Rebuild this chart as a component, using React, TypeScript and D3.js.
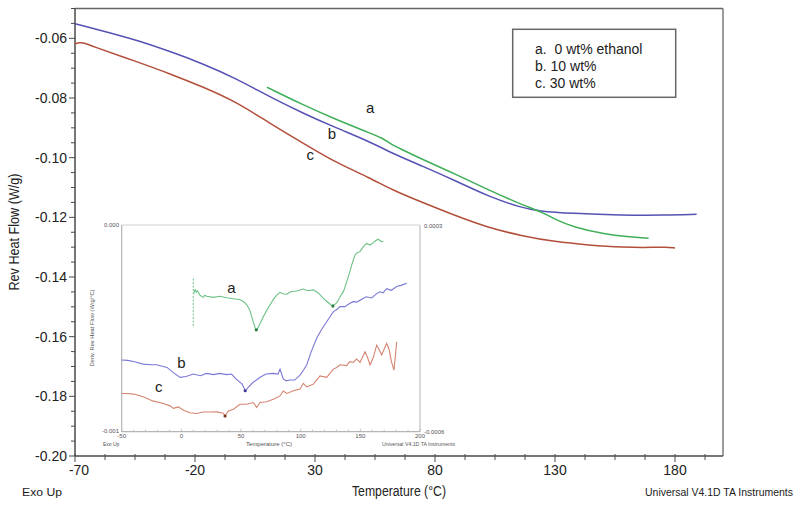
import React from "react";
import * as d3 from "d3";

// ---------- main chart data (Temperature °C, Rev Heat Flow W/g) ----------
const seriesA: [number, number][] = [
  [10, -0.0764], [25, -0.0823], [39, -0.0873], [53, -0.0918], [58, -0.0934], [61, -0.0951],
  [65, -0.0968], [75, -0.1007], [89, -0.1057], [102, -0.1107], [116, -0.1157], [125, -0.1184],
  [130, -0.1207], [138, -0.1234], [151, -0.1257], [160, -0.1265], [169, -0.127],
];
const seriesB: [number, number][] = [
  [-70, -0.0551], [-55, -0.0582], [-44, -0.0607], [-30, -0.0645], [-17, -0.0684], [-3, -0.0734],
  [11, -0.0796], [25, -0.0851], [39, -0.0901], [53, -0.0947], [62, -0.0985], [75, -0.1029],
  [89, -0.1079], [102, -0.1129], [116, -0.1168], [123, -0.1179], [137, -0.1187], [158, -0.1193],
  [175, -0.1193], [189, -0.119],
];
const seriesC: [number, number][] = [
  [-70, -0.0618], [-68, -0.0614], [-66, -0.0615], [-64, -0.0623], [-44, -0.0679], [-30, -0.072],
  [-17, -0.0762], [-3, -0.0812], [11, -0.0884], [25, -0.0951], [39, -0.1018], [53, -0.1068],
  [62, -0.1108], [75, -0.1151], [89, -0.1196], [102, -0.1234], [116, -0.1262], [130, -0.1282],
  [144, -0.1293], [158, -0.1301], [172, -0.1301], [176, -0.1299], [180, -0.1303],
];
const xMajorTicks = [-70, -20, 30, 80, 130, 180];
const yMajorTicks = [-0.2, -0.18, -0.16, -0.14, -0.12, -0.1, -0.08, -0.06];
const legendLines = ["a.  0 wt% ethanol", "b. 10 wt%", "c. 30 wt%"];
const curveLabels: { key: string; t: number; v: number }[] = [
  { key: "a", t: 53, v: -0.0831 },
  { key: "b", t: 37, v: -0.0919 },
  { key: "c", t: 28, v: -0.0990 },
];

// ---------- inset data (Temperature °C, Deriv. Rev Heat Flow W/g/°C) ----------
const insetA: [number, number][] = [
  [10.5, -0.33e-3], [11.5, -0.313e-3], [12.5, -0.325e-3], [13.4, -0.318e-3], [15.6, -0.34e-3],
  [18.4, -0.35e-3], [19.5, -0.34e-3], [21.2, -0.345e-3], [26.8, -0.35e-3], [32.4, -0.345e-3],
  [38, -0.352e-3], [43.6, -0.357e-3], [49.2, -0.362e-3], [52, -0.37e-3], [54.7, -0.385e-3],
  [57.5, -0.413e-3], [60.3, -0.47e-3], [62.3, -0.505e-3], [63.5, -0.505e-3], [65.9, -0.478e-3],
  [69, -0.44e-3], [71.5, -0.413e-3], [74.3, -0.387e-3], [77.1, -0.36e-3], [79.9, -0.339e-3],
  [82.7, -0.326e-3], [85, -0.333e-3], [88.3, -0.335e-3], [92, -0.322e-3], [96.7, -0.319e-3],
  [102.2, -0.31e-3], [106, -0.318e-3], [110.6, -0.314e-3], [115, -0.33e-3], [119, -0.355e-3],
  [123, -0.375e-3], [126, -0.39e-3], [128.8, -0.384e-3], [131, -0.37e-3], [133, -0.347e-3],
  [136, -0.32e-3], [138.6, -0.274e-3], [141, -0.23e-3], [142.8, -0.193e-3], [145.5, -0.145e-3],
  [147, -0.135e-3], [149.7, -0.129e-3], [152.5, -0.105e-3], [155.3, -0.089e-3], [158.1, -0.097e-3],
  [160.9, -0.085e-3], [163, -0.075e-3], [165, -0.069e-3], [167, -0.078e-3], [169.3, -0.081e-3],
];
const insetAStart: [number, number][] = [[10, -0.259e-3], [10, -0.494e-3]];
const insetB: [number, number][] = [
  [-50, -0.653e-3], [-45, -0.655e-3], [-40, -0.66e-3], [-32, -0.673e-3], [-25, -0.676e-3],
  [-21, -0.676e-3], [-12, -0.689e-3], [-7, -0.713e-3], [-1, -0.737e-3], [4, -0.733e-3],
  [10, -0.721e-3], [16, -0.729e-3], [21, -0.718e-3], [27, -0.724e-3], [32, -0.718e-3],
  [38, -0.724e-3], [42, -0.721e-3], [46, -0.746e-3], [51, -0.77e-3], [53.5, -0.802e-3],
  [56, -0.786e-3], [60, -0.762e-3], [66, -0.737e-3], [71, -0.721e-3], [77, -0.718e-3],
  [81, -0.721e-3], [82.7, -0.697e-3], [84, -0.721e-3], [85.5, -0.746e-3], [88, -0.754e-3],
  [91, -0.75e-3], [95, -0.75e-3], [99.4, -0.726e-3], [102, -0.705e-3], [105, -0.677e-3],
  [109, -0.61e-3], [113.4, -0.548e-3], [117, -0.51e-3], [121.8, -0.468e-3], [127.4, -0.419e-3],
  [130, -0.41e-3], [133, -0.395e-3], [137, -0.395e-3], [141, -0.38e-3], [144, -0.371e-3],
  [147, -0.373e-3], [152, -0.357e-3], [155, -0.347e-3], [159.5, -0.353e-3], [163.7, -0.332e-3],
  [166.5, -0.323e-3], [169, -0.328e-3], [172, -0.308e-3], [176, -0.316e-3], [180.5, -0.298e-3],
  [184, -0.292e-3], [188.9, -0.282e-3],
];
const insetC: [number, number][] = [
  [-50, -0.815e-3], [-45, -0.815e-3], [-40, -0.818e-3], [-32, -0.831e-3], [-24, -0.851e-3],
  [-15, -0.864e-3], [-9.5, -0.875e-3], [-6.7, -0.887e-3], [-2.5, -0.88e-3], [1.7, -0.896e-3],
  [7.3, -0.908e-3], [12.8, -0.912e-3], [18.4, -0.905e-3], [24, -0.905e-3], [29.6, -0.904e-3],
  [35.2, -0.911e-3], [36.6, -0.924e-3], [39.4, -0.9e-3], [43.6, -0.891e-3], [49.2, -0.867e-3],
  [54.7, -0.867e-3], [60.3, -0.859e-3], [63.1, -0.883e-3], [65.9, -0.859e-3], [71.5, -0.855e-3],
  [77.1, -0.843e-3], [82.7, -0.827e-3], [85.4, -0.803e-3], [88.3, -0.815e-3], [93.9, -0.802e-3],
  [99.4, -0.794e-3], [102.2, -0.766e-3], [105, -0.783e-3], [110.6, -0.77e-3], [116.2, -0.73e-3],
  [121.8, -0.737e-3], [127.4, -0.697e-3], [130.2, -0.689e-3], [133, -0.676e-3], [138.5, -0.68e-3],
  [141, -0.661e-3], [144.1, -0.665e-3], [146.9, -0.648e-3], [149.7, -0.665e-3], [153.9, -0.613e-3],
  [156, -0.64e-3], [158.1, -0.677e-3], [160.9, -0.64e-3], [163.7, -0.581e-3], [165.5, -0.6e-3],
  [167.9, -0.629e-3], [170, -0.6e-3], [172.1, -0.573e-3], [174, -0.6e-3], [176, -0.66e-3],
  [178.2, -0.702e-3], [180.5, -0.565e-3],
];
const insetMarkers: { t: number; d: number; s: string }[] = [
  { t: 62.8, d: -0.507e-3, s: "a" },
  { t: 127, d: -0.392e-3, s: "a" },
  { t: 53.5, d: -0.802e-3, s: "b" },
  { t: 36.6, d: -0.924e-3, s: "c" },
];
const insetXTicks = [-50, 0, 50, 100, 150, 200];
const insetLeftTicks = ["0.000", "-0.001"];
const insetRightTicks = ["0.0003", "-0.0006"];
const insetCurveLabels: { key: string; t: number; d: number }[] = [
  { key: "a", t: 42, d: -0.3e-3 },
  { key: "b", t: 0, d: -0.666e-3 },
  { key: "c", t: -19, d: -0.782e-3 },
];

const COLORS = { a: "#3fae58", b: "#5552b4", c: "#b24f3b" };
const INSET_COLORS = { a: "#6cc286", b: "#7a78d6", c: "#d48470" };
const FONT = "'Liberation Sans', Arial, sans-serif";

export default function App() {
  const x = d3.scaleLinear().domain([-70, 200]).range([75, 723]);
  const y = d3.scaleLinear().domain([-0.2, -0.05]).range([456, 8.5]);
  const line = d3
    .line<[number, number]>()
    .x((d) => x(d[0]))
    .y((d) => y(d[1]))
    .curve(d3.curveBasis);

  const ix = d3.scaleLinear().domain([-50, 200]).range([121.7, 420]);
  const iy = d3.scaleLinear().domain([-0.001, 0]).range([431.7, 225]);
  const iline = d3
    .line<[number, number]>()
    .x((d) => ix(d[0]))
    .y((d) => iy(d[1]));

  const xMinor = d3.range(-70, 200, 12.5);
  const yMinor = d3.range(0, 31).map((i) => -0.2 + i * 0.005);
  const insetXMinor = d3.range(-50, 201, 10);

  const axisColor = "#4a4a4a";
  const insetAxis = "#b5b5b5";

  return (
    <svg
      width={800}
      height={506}
      style={{ position: "absolute", left: 0, top: 0, background: "#fff" }}
      fontFamily={FONT}
    >
      <rect x={0} y={0} width={800} height={506} fill="#fff" />
      {/* frame */}
      <line x1={x(-70)} x2={x(200)} y1={y(-0.05)} y2={y(-0.05)} stroke="#666" strokeWidth={1.3} />
      <line x1={x(200)} x2={x(200)} y1={y(-0.05)} y2={y(-0.2)} stroke="#666" strokeWidth={1.3} />
      <line x1={x(-70)} x2={x(-70)} y1={y(-0.05)} y2={y(-0.2)} stroke={axisColor} strokeWidth={1.5} />
      <line x1={x(-70)} x2={x(200)} y1={y(-0.2)} y2={y(-0.2)} stroke={axisColor} strokeWidth={1.5} />

      {/* y ticks */}
      {yMinor.map((v, i) => {
        const major = i % 4 === 0;
        return (
          <line
            key={"ym" + i}
            x1={x(-70) - (major ? 6 : 4)}
            x2={x(-70)}
            y1={y(v)}
            y2={y(v)}
            stroke={axisColor}
            strokeWidth={1}
          />
        );
      })}
      {yMajorTicks.map((v) => (
        <text key={"yl" + v} x={67} y={y(v) + 5} textAnchor="end" fontSize={14} fill="#222">
          {v.toFixed(2)}
        </text>
      ))}
      {/* x ticks */}
      {xMinor.map((t, i) => {
        const major = i % 4 === 0;
        return (
          <line
            key={"xm" + i}
            x1={x(t)}
            x2={x(t)}
            y1={y(-0.2) - 2}
            y2={y(-0.2) + (major ? 6 : 4)}
            stroke={axisColor}
            strokeWidth={1}
          />
        );
      })}
      {xMajorTicks.map((t, i) => (
        <text key={"xl" + t} x={x(t) + (i === 0 ? 4 : 0)} y={475} textAnchor="middle" fontSize={14} fill="#222">
          {t}
        </text>
      ))}
      <text x={14} y={232} fontSize={14} fill="#222" textAnchor="middle" dominantBaseline="central"
        transform="rotate(-90 14 232)" textLength={117} lengthAdjust="spacingAndGlyphs">
        Rev Heat Flow (W/g)
      </text>
      <text x={399} y={496} fontSize={14} fill="#222" textAnchor="middle" textLength={94} lengthAdjust="spacingAndGlyphs">
        Temperature (°C)
      </text>
      <text x={22} y={496} fontSize={11} fill="#222" textLength={40} lengthAdjust="spacingAndGlyphs">
        Exo Up
      </text>
      <text x={645} y={496} fontSize={11} fill="#222" textLength={148} lengthAdjust="spacingAndGlyphs">
        Universal V4.1D TA Instruments
      </text>

      {/* main curves */}
      <path d={line(seriesB) || ""} fill="none" stroke={COLORS.b} strokeWidth={1.5} />
      <path d={line(seriesC) || ""} fill="none" stroke={COLORS.c} strokeWidth={1.5} />
      <path d={line(seriesA) || ""} fill="none" stroke={COLORS.a} strokeWidth={1.5} />
      {curveLabels.map((l) => (
        <text key={l.key} x={x(l.t)} y={y(l.v)} fontSize={15} fill="#222" textAnchor="middle" dominantBaseline="central">
          {l.key}
        </text>
      ))}

      {/* legend */}
      <rect x={512.7} y={29.3} width={163} height={68} fill="#fff" stroke="#666" strokeWidth={1.5} />
      {legendLines.map((s, i) => (
        <text key={s} x={535} y={54 + i * 17} fontSize={14} fill="#222" style={{ whiteSpace: "pre" }}>
          {s}
        </text>
      ))}

      {/* inset */}
      <line x1={ix(-50)} x2={ix(200)} y1={iy(0)} y2={iy(0)} stroke="#d0d0d0" strokeWidth={1} />
      <line x1={ix(200)} x2={ix(200)} y1={iy(0)} y2={iy(-0.001)} stroke={insetAxis} strokeWidth={1} />
      <line x1={ix(-50)} x2={ix(-50)} y1={iy(0)} y2={iy(-0.001)} stroke={insetAxis} strokeWidth={1.2} />
      <line x1={ix(-50)} x2={ix(200)} y1={iy(-0.001)} y2={iy(-0.001)} stroke={insetAxis} strokeWidth={1.2} />
      {insetXMinor.map((t) => (
        <line key={"ixm" + t} x1={ix(t)} x2={ix(t)} y1={iy(-0.001)} y2={iy(-0.001) - (t % 50 === 0 ? 3 : 2)}
          stroke={insetAxis} strokeWidth={0.8} />
      ))}
      {insetXTicks.map((t) => (
        <text key={"ixl" + t} x={ix(t)} y={438} fontSize={6} fill="#555" textAnchor="middle">
          {t}
        </text>
      ))}
      <text x={119} y={227} fontSize={6} fill="#555" textAnchor="end">{insetLeftTicks[0]}</text>
      <text x={119} y={433} fontSize={6} fill="#555" textAnchor="end">{insetLeftTicks[1]}</text>
      <text x={424} y={228} fontSize={6} fill="#555">{insetRightTicks[0]}</text>
      <text x={424} y={434} fontSize={6} fill="#555">{insetRightTicks[1]}</text>
      <text x={92} y={328} fontSize={6} fill="#555" textAnchor="middle" dominantBaseline="central"
        transform="rotate(-90 92 328)" textLength={77} lengthAdjust="spacingAndGlyphs">
        Deriv. Rev Heat Flow (W/g/°C)
      </text>
      <text x={103} y={446} fontSize={5} fill="#555">Exo Up</text>
      <text x={269} y={446} fontSize={6} fill="#555" textAnchor="middle">Temperature (°C)</text>
      <text x={382} y={446} fontSize={5} fill="#555" textLength={73} lengthAdjust="spacingAndGlyphs">
        Universal V4.1D TA Instruments
      </text>

      <path d={iline(insetAStart) || ""} fill="none" stroke={INSET_COLORS.a} strokeWidth={1} strokeDasharray="2,1.5" />
      <path d={iline(insetA) || ""} fill="none" stroke={INSET_COLORS.a} strokeWidth={1.1} />
      <path d={iline(insetB) || ""} fill="none" stroke={INSET_COLORS.b} strokeWidth={1.1} />
      <path d={iline(insetC) || ""} fill="none" stroke={INSET_COLORS.c} strokeWidth={1.1} />
      {insetMarkers.map((m, i) => (
        <circle key={"mk" + i} cx={ix(m.t)} cy={iy(m.d)} r={1.6}
          fill={m.s === "a" ? "#2e7a45" : m.s === "b" ? "#3a3890" : "#7a3020"} />
      ))}
      {insetCurveLabels.map((l) => (
        <text key={"il" + l.key} x={ix(l.t)} y={iy(l.d)} fontSize={15} fill="#222" textAnchor="middle" dominantBaseline="central">
          {l.key}
        </text>
      ))}
    </svg>
  );
}
